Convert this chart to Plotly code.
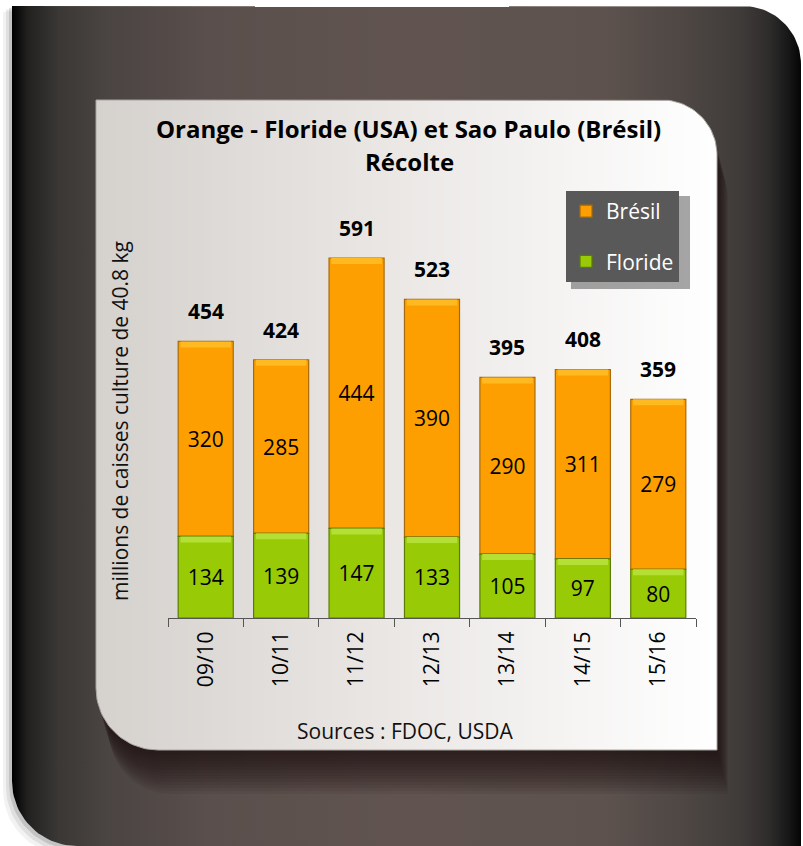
import numpy as np
import plotly.graph_objects as go

# ---- data ---------------------------------------------------------------
seasons = ["09/10", "10/11", "11/12", "12/13", "13/14", "14/15", "15/16"]
floride = [134, 139, 147, 133, 105, 97, 80]
bresil = [320, 285, 444, 390, 290, 311, 279]
totals = [f + b for f, b in zip(floride, bresil)]

title_line1 = "Orange - Floride (USA) et Sao Paulo (Brésil)"
title_line2 = "Récolte"
y_title = "millions de caisses culture de 40.8 kg"
source_text = "Sources : FDOC, USDA"

# ---- page geometry (pixels, y grows downward) --------------------------------
W, H = 803, 846
FONT = "Open Sans"

ORANGE = "#fd9f00"
ORANGE_EDGE = "#a86a08"
ORANGE_TOP = "#ffb921"
GREEN = "#98cb06"
GREEN_EDGE = "#5a7d00"
GREEN_TOP = "#b4df35"

BAR_W = 0.73          # bar width in category units
PX_PER_UNIT = 0.6091  # vertical scale of the plot area
BEVEL = 6 / PX_PER_UNIT


def rounded_rect(x0, y0, x1, y1, r_tl=0, r_tr=0, r_br=0, r_bl=0, n=28):
    """Closed outline of a rectangle with individually rounded corners."""
    xs, ys = [], []
    corners = [
        (x0 + r_tl, y0 + r_tl, r_tl, 180, 270),
        (x1 - r_tr, y0 + r_tr, r_tr, 270, 360),
        (x1 - r_br, y1 - r_br, r_br, 0, 90),
        (x0 + r_bl, y1 - r_bl, r_bl, 90, 180),
    ]
    for cx, cy, r, a0, a1 in corners:
        if r <= 0:
            xs.append(cx)
            ys.append(cy)
            continue
        t = np.radians(np.linspace(a0, a1, n))
        xs.extend(cx + r * np.cos(t))
        ys.extend(cy + r * np.sin(t))
    xs.append(xs[0])
    ys.append(ys[0])
    return list(xs), list(ys)


def filled(xs, ys, color, line=None):
    return go.Scatter(x=xs, y=ys, mode="lines", fill="toself", fillcolor=color,
                      line=line or dict(width=0), hoverinfo="skip", showlegend=False)


fig = go.Figure()

# ---- decorative frame (drawn on a full-page pixel axis) ----------------------
frame = (12, 6, 801, 846)
panel = (96, 100, 717, 750)
PANEL_R = (0, 55, 0, 62)

# soft shadow of the dark frame
for k, a in [(9, 0.05), (6, 0.08), (3, 0.12)]:
    sx, sy = rounded_rect(frame[0] - k, frame[1] + k * 0.6, frame[2] - k, frame[3] + k,
                          0, 58, 0, 65)
    fig.add_trace(filled(sx, sy, f"rgba(0,0,0,{a})"))

fx, fy = rounded_rect(*frame, 0, 58, 0, 65)
fig.add_trace(go.Scatter(
    x=fx, y=fy, mode="lines", fill="toself", line=dict(width=0),
    fillgradient=dict(type="horizontal", start=frame[0], stop=frame[2], colorscale=[
        [0.0, "#000000"], [0.02, "#222120"], [0.06, "#3b3836"], [0.12, "#4a4442"],
        [0.25, "#5a4f4c"], [0.5, "#615450"], [0.75, "#5d524e"], [0.85, "#4e4744"],
        [0.92, "#403c3a"], [0.96, "#2e2c2b"], [0.985, "#161616"], [1.0, "#050505"]]),
    hoverinfo="skip", showlegend=False))

# shadow cast by the light panel: translucent copies shifted downward
for d in range(2, 46, 3):
    sx, sy = rounded_rect(panel[0] + 0.3 * d, panel[1] + d, panel[2] + 0.25 * d,
                          panel[3] + d, *PANEL_R)
    fig.add_trace(filled(sx, sy, "rgba(25,18,16,0.075)"))

px_, py_ = rounded_rect(*panel, *PANEL_R)
fig.add_trace(go.Scatter(
    x=px_, y=py_, mode="lines", fill="toself", line=dict(width=1, color="#a9a5a1"),
    fillgradient=dict(type="horizontal", start=panel[0], stop=panel[2], colorscale=[
        [0.0, "#d5d1cd"], [0.5, "#ebe8e6"], [1.0, "#ffffff"]]),
    hoverinfo="skip", showlegend=False))

# ---- stacked bars ---------------------------------------------------------------
label_font = dict(family=FONT, size=21, color="black")
fig.add_trace(go.Bar(
    x=seasons, y=bresil, base=floride, width=BAR_W, name="Brésil",
    xaxis="x2", yaxis="y2", legendgroup="bresil",
    marker=dict(color=ORANGE, line=dict(color=ORANGE_EDGE, width=1.2)),
    text=[str(v) for v in bresil], textposition="inside", insidetextanchor="middle",
    textangle=0, textfont=label_font, hoverinfo="skip"))
fig.add_trace(go.Bar(
    x=seasons, y=floride, base=[0] * len(seasons), width=BAR_W, name="Floride",
    xaxis="x2", yaxis="y2", legendgroup="floride",
    marker=dict(color=GREEN, line=dict(color=GREEN_EDGE, width=1.2)),
    text=[str(v) for v in floride], textposition="inside", insidetextanchor="middle",
    textangle=0, textfont=label_font, hoverinfo="skip"))

# bevel highlight along the top edge of each segment
for tops, col in [(floride, GREEN_TOP), (totals, ORANGE_TOP)]:
    fig.add_trace(go.Bar(
        x=seasons, y=[BEVEL] * len(seasons), base=[t - BEVEL for t in tops],
        width=BAR_W - 0.06, xaxis="x2", yaxis="y2", showlegend=False,
        marker=dict(color=col, line=dict(width=0)), hoverinfo="skip"))

annotations = []
for s, t in zip(seasons, totals):
    annotations.append(dict(x=s, y=t, xref="x2", yref="y2", text=f"<b>{t}</b>",
                            showarrow=False, yshift=30, yanchor="middle",
                            font=dict(family=FONT, size=21, color="black")))

annotations += [
    dict(x=408 / W, y=1 - 128 / H, xref="paper", yref="paper", text=f"<b>{title_line1}</b>",
         showarrow=False, xanchor="center", yanchor="middle",
         font=dict(family=FONT, size=24, color="black")),
    dict(x=409 / W, y=1 - 162 / H, xref="paper", yref="paper", text=f"<b>{title_line2}</b>",
         showarrow=False, xanchor="center", yanchor="middle",
         font=dict(family=FONT, size=24, color="black")),
    dict(x=120 / W, y=1 - 421 / H, xref="paper", yref="paper", text=y_title,
         showarrow=False, textangle=-90, xanchor="center", yanchor="middle",
         font=dict(family=FONT, size=21, color="#111111")),
    dict(x=405 / W, y=1 - 731 / H, xref="paper", yref="paper", text=source_text,
         showarrow=False, xanchor="center", yanchor="middle",
         font=dict(family=FONT, size=21, color="#111111")),
]

# plot area: x 168..696 px, baseline at 618 px
base_px, y_max = 618, 700
top_px = base_px - y_max * PX_PER_UNIT

fig.update_layout(
    width=W, height=H,
    margin=dict(l=0, r=0, t=0, b=0),
    paper_bgcolor="white", plot_bgcolor="rgba(0,0,0,0)",
    barmode="overlay",
    hovermode=False,
    xaxis=dict(domain=[0, 1], range=[0, W], visible=False, fixedrange=True),
    yaxis=dict(domain=[0, 1], range=[H, 0], visible=False, fixedrange=True),
    xaxis2=dict(domain=[168 / W, 696 / W], anchor="y2", type="category",
                range=[-0.5, len(seasons) - 0.5],
                showline=True, linecolor="#555555", linewidth=1,
                ticks="outside", tickson="boundaries", ticklen=8, tickcolor="#555555",
                tickangle=-90, tickfont=dict(family=FONT, size=21, color="black"),
                ticklabelstandoff=4,
                showgrid=False, zeroline=False, fixedrange=True),
    yaxis2=dict(domain=[1 - base_px / H, 1 - top_px / H], anchor="x2",
                range=[0, y_max], visible=False, fixedrange=True),
    legend=dict(x=566 / W, y=1 - 191 / H, xanchor="left", yanchor="top",
                bgcolor="#595959", borderwidth=0, traceorder="grouped",
                tracegroupgap=20, font=dict(family=FONT, size=21, color="white")),
    annotations=annotations,
    shapes=[dict(type="rect", xref="paper", yref="paper",
                 x0=571 / W, x1=690 / W, y0=1 - 289 / H, y1=1 - 196 / H,
                 fillcolor="rgba(0,0,0,0.35)", line=dict(width=0), layer="above")],
)

fig.write_html("out.html")
